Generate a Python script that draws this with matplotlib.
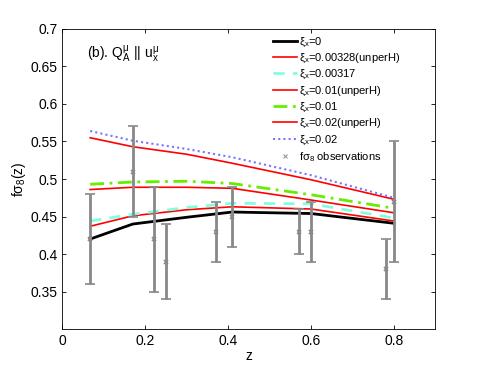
import numpy as np
import matplotlib
matplotlib.use("Agg")
import matplotlib.pyplot as plt
from matplotlib.lines import Line2D

plt.rcParams['font.family'] = ['Liberation Sans', 'DejaVu Sans']
plt.rcParams['mathtext.default'] = 'regular'
plt.rcParams['font.size'] = 9

# model curves sampled at z
z = [0.067, 0.17, 0.3, 0.41, 0.6, 0.8]
xi0 = [0.420, 0.440, 0.449, 0.456, 0.454, 0.441]
xi00328_unperH = [0.437, 0.451, 0.459, 0.463, 0.460, 0.444]
xi00317 = [0.444, 0.453, 0.462, 0.4676, 0.467, 0.448]
xi001_unperH = [0.486, 0.489, 0.489, 0.4876, 0.472, 0.455]
xi001 = [0.493, 0.496, 0.497, 0.494, 0.479, 0.461]
xi002_unperH = [0.555, 0.543, 0.533, 0.521, 0.499, 0.473]
xi002 = [0.564, 0.551, 0.540, 0.529, 0.505, 0.475]

# observations
obs_z = [0.067, 0.17, 0.22, 0.25, 0.37, 0.41, 0.57, 0.60, 0.78, 0.80]
obs_f = [0.42, 0.51, 0.42, 0.39, 0.43, 0.45, 0.43, 0.43, 0.38, 0.47]
obs_err = [0.06, 0.06, 0.07, 0.05, 0.04, 0.04, 0.03, 0.04, 0.04, 0.08]

labels = [r'$\xi_x$=0', r'$\xi_x$=0.00328(unperH)', r'$\xi_x$=0.00317',
          r'$\xi_x$=0.01(unperH)', r'$\xi_x$=0.01', r'$\xi_x$=0.02(unperH)',
          r'$\xi_x$=0.02', r'f$\sigma_8$ observations']

fig = plt.figure(figsize=(4.8, 3.71), dpi=100)
ax = fig.add_axes([0.13, 0.113, 0.777, 0.809])

h = []
h += ax.plot(z, xi0, color='k', lw=2.0, label=labels[0])
h += ax.plot(z, xi00328_unperH, color='r', lw=1.2, label=labels[1])
h += ax.plot(z, xi00317, color='#80ffe0', lw=2.0, ls=(0, (4, 3)), label=labels[2])
h += ax.plot(z, xi001_unperH, color='r', lw=1.2, label=labels[3])
h += ax.plot(z, xi001, color='#66ee00', lw=2.0, ls=(0, (5, 2, 1, 2)), label=labels[4])
h += ax.plot(z, xi002_unperH, color='r', lw=1.2, label=labels[5])
h += ax.plot(z, xi002, color='#7777ff', lw=1.5, ls=(0, (1, 1.5)), label=labels[6])
ax.errorbar(obs_z, obs_f, yerr=obs_err, fmt='x', color='#888888', ms=3,
            mew=1.2, ecolor='#888888', elinewidth=2, capsize=3.5, capthick=1.5)
h.append(Line2D([], [], ls='none', marker='x', color='#999999', ms=3, mew=0.8,
                label=labels[7]))

ax.set_xlim(0, 0.9)
ax.set_ylim(0.3, 0.7)
ax.set_xticks([0, 0.2, 0.4, 0.6, 0.8])
ax.set_xticklabels(['0', '0.2', '0.4', '0.6', '0.8'])
ax.set_yticks([0.35, 0.4, 0.45, 0.5, 0.55, 0.6, 0.65, 0.7])
ax.set_yticklabels(['0.35', '0.4', '0.45', '0.5', '0.55', '0.6', '0.65', '0.7'])
ax.tick_params(direction='in', top=True, right=True, length=3, width=0.6, labelsize=10)
for s in ax.spines.values():
    s.set_linewidth(0.6)

ax.set_xlabel('z', fontsize=10, labelpad=1)
ax.set_ylabel(r'f$\sigma_8$(z)', fontsize=10, labelpad=2)
ax.text(0.065, 0.915, r'(b). $Q_A^{\mu}$ || $u_x^{\mu}$', transform=ax.transAxes,
        fontsize=10, va='center')

leg = ax.legend(handles=h, loc='upper left', frameon=False, fontsize=8,
                handlelength=2.1, handletextpad=0.2, labelspacing=0.29,
                borderaxespad=0, borderpad=0, bbox_to_anchor=(0.566, 0.978))

fig.savefig('out.png', dpi=100)
